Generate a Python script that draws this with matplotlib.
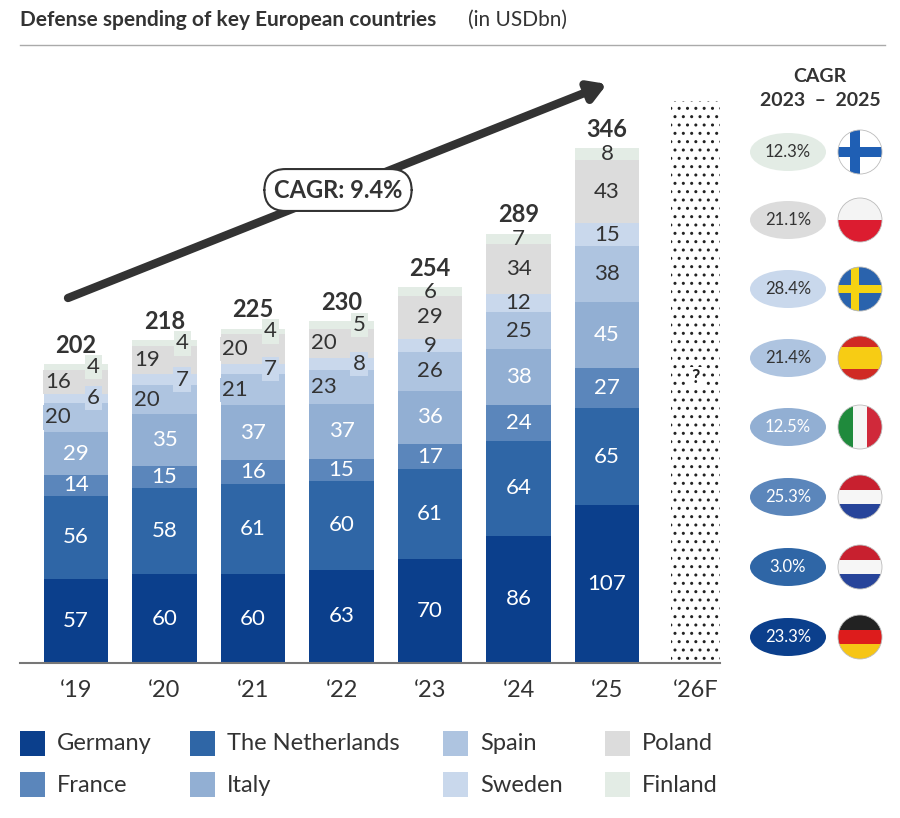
import matplotlib
matplotlib.use("Agg")
import matplotlib.pyplot as plt
from matplotlib.patches import Ellipse, Rectangle, Circle
import numpy as np

plt.rcParams['font.family'] = ['Lato', 'DejaVu Sans']

years = ["‘19", "‘20", "‘21", "‘22", "‘23", "‘24", "‘25", "‘26F"]
totals = [202, 218, 225, 230, 254, 289, 346]
series_names = ["Germany", "The Netherlands", "France", "Italy", "Spain", "Sweden", "Poland", "Finland"]
germany = [57, 60, 60, 63, 70, 86, 107]
netherlands = [56, 58, 61, 60, 61, 64, 65]
france = [14, 15, 16, 15, 17, 24, 27]
italy = [29, 35, 37, 37, 36, 38, 45]
spain = [20, 20, 21, 23, 26, 25, 38]
sweden = [6, 7, 7, 8, 9, 12, 15]
poland = [16, 19, 20, 20, 29, 34, 43]
finland = [4, 4, 4, 5, 6, 7, 8]
forecast_height = 380
colors = ["#0b3f8c", "#2f66a6", "#5b86bb", "#92afd3", "#aec4e0", "#c9d8ec", "#dcdcdc", "#e3ece5"]
text_colors = ["white", "white", "white", "white", "#333333", "#333333", "#333333", "#333333"]
cagr_labels = ["12.3%", "21.1%", "28.4%", "21.4%", "12.5%", "25.3%", "3.0%", "23.3%"]
cagr_colors = ["#e3ece5", "#dcdcdc", "#c9d8ec", "#aec4e0", "#92afd3", "#5b86bb", "#2f66a6", "#0b3f8c"]
cagr_text = ["#333333", "#333333", "#333333", "#333333", "white", "white", "white", "white"]
flags = ["FI", "PL", "SE", "ES", "IT", "NL", "NL", "DE"]
legend_order = ["Germany", "The Netherlands", "Spain", "Poland", "France", "Italy", "Sweden", "Finland"]

data = [germany, netherlands, france, italy, spain, sweden, poland, finland]

W, H = 900, 818
fig = plt.figure(figsize=(9, 8.18), dpi=100)
# main axes: x pixels 20..720, y pixels 50..663
ax = fig.add_axes([20 / W, (H - 663) / H, 700 / W, 613 / H])
px_per_x = 88.5
ax.set_xlim((20 - 76) / px_per_x, (720 - 76) / px_per_x)
ppu = 1.48
ax.set_ylim(0, 613 / ppu)
for s in ["top", "right", "left"]:
    ax.spines[s].set_visible(False)
ax.spines["bottom"].set_color("#777777")
ax.spines["bottom"].set_linewidth(1.5)
ax.set_yticks([])
ax.set_xticks(range(len(years)))
ax.set_xticklabels(years, fontsize=17, color="#333333")
ax.tick_params(axis="x", length=0, pad=12)

x = np.arange(len(totals))
bw = 0.73
bottom = np.zeros(len(totals))
for k, vals in enumerate(data):
    vals = np.array(vals)
    ax.bar(x, vals, bw, bottom=bottom, color=colors[k], edgecolor="none")
    for i, v in enumerate(vals):
        yc = bottom[i] + v / 2
        if k >= 4 and i <= 3:
            off = -0.2 if k % 2 == 0 else 0.2
            ax.text(i + off, yc, str(v), ha="center", va="center", fontsize=16,
                    color=text_colors[k],
                    bbox=dict(boxstyle="square,pad=0.1", fc=colors[k], ec="none"))
        else:
            ax.text(i, yc, str(v), ha="center", va="center", fontsize=16, color=text_colors[k])
    bottom += vals
for i, t in enumerate(totals):
    ax.text(i, bottom[i] + 5, str(t), ha="center", va="bottom", fontsize=17,
            fontweight="bold", color="#333333")

# forecast bar
ax.bar([7], [forecast_height], bw * 0.75, color="white", edgecolor="#222222",
       hatch="..", linewidth=0)
ax.text(7, (663 - 378) / ppu, "?", ha="center", va="center", fontsize=13,
        fontweight="bold", color="#222222",
        bbox=dict(boxstyle="square,pad=0.15", fc="white", ec="none"))

# CAGR arrow
def d(px, py):
    return ((px - 76) / px_per_x, (663 - py) / ppu)
ax.annotate("", xy=d(607, 84), xytext=d(68, 298),
            arrowprops=dict(arrowstyle="-|>,head_length=1.0,head_width=0.6",
                            color="#333333", lw=6, shrinkA=0, shrinkB=0))
ax.text(*d(338, 190), "CAGR: 9.4%", ha="center", va="center", fontsize=17,
        fontweight="bold", color="#333333",
        bbox=dict(boxstyle="round,pad=0.4,rounding_size=0.9", fc="white", ec="#333333", lw=1.5))

# overlay in pixel coords
ov = fig.add_axes([0, 0, 1, 1])
ov.set_xlim(0, W)
ov.set_ylim(H, 0)
ov.axis("off")

fig.text(20 / W, 1 - 20 / H, "Defense spending of key European countries", fontsize=15,
         fontweight="bold", color="#333333", va="center")
fig.text(468 / W, 1 - 20 / H, "(in USDbn)", fontsize=15, color="#333333", va="center")
ov.plot([20, 885], [45, 45], color="#aaaaaa", lw=1)

ov.text(820, 76, "CAGR", ha="center", va="center", fontsize=14, fontweight="bold", color="#333333")
ov.text(820, 100, "2023  –  2025", ha="center", va="center", fontsize=14, fontweight="bold", color="#333333")

rows_y = [152, 220, 289, 358, 427, 497, 567, 637]

def flag(cx, cy, code, r=22):
    clip = Circle((cx, cy), r, transform=ov.transData)
    L, T = cx - r, cy - r
    S = 2 * r
    parts = []
    def rect(x0, y0, w, h, c):
        parts.append(Rectangle((x0, y0), w, h, fc=c, ec="none"))
    if code == "FI":
        rect(L, T, S, S, "white"); rect(L, cy - 5, S, 10, "#1f5fb4"); rect(cx - 10, T, 10, S, "#1f5fb4")
    elif code == "PL":
        rect(L, T, S, S / 2, "#f4f4f4"); rect(L, cy, S, S / 2, "#dc1c30")
    elif code == "SE":
        rect(L, T, S, S, "#2a63ad"); rect(L, cy - 4, S, 8, "#f5d312"); rect(cx - 9, T, 8, S, "#f5d312")
    elif code == "ES":
        rect(L, T, S, S, "#d02a24"); rect(L, T + S / 4, S, S / 2, "#f7cc14")
    elif code == "IT":
        rect(L, T, S / 3, S, "#1f8a3c"); rect(L + S / 3, T, S / 3, S, "#f6f6f6"); rect(L + 2 * S / 3, T, S / 3, S, "#d0293a")
    elif code == "NL":
        rect(L, T, S, S / 3, "#c8202f"); rect(L, T + S / 3, S, S / 3, "#f6f6f6"); rect(L, T + 2 * S / 3, S, S / 3, "#27449a")
    elif code == "DE":
        rect(L, T, S, S / 3, "#222222"); rect(L, T + S / 3, S, S / 3, "#dd1c1c"); rect(L, T + 2 * S / 3, S, S / 3, "#f6c515")
    for p in parts:
        ov.add_patch(p)
        p.set_clip_path(clip)
    ov.add_patch(Circle((cx, cy), r, fc="none", ec="#bbbbbb", lw=0.6))

for yv, lab, c, tc, f in zip(rows_y, cagr_labels, cagr_colors, cagr_text, flags):
    ov.add_patch(Ellipse((788, yv), 76, 38, fc=c, ec="none"))
    ov.text(788, yv, lab, ha="center", va="center", fontsize=12, color=tc)
    flag(860, yv, f)

# legend
leg_x = [20, 190, 443, 605]
leg_y = [743, 784]
for idx, name in enumerate(legend_order):
    r, cidx = divmod(idx, 4)
    lx, ly = leg_x[cidx], leg_y[r]
    col = colors[series_names.index(name)]
    ov.add_patch(Rectangle((lx, ly - 12), 25, 25, fc=col, ec="none"))
    ov.text(lx + 37, ly + 1, name, ha="left", va="center", fontsize=17, color="#333333")

fig.savefig("out.png", dpi=100)
